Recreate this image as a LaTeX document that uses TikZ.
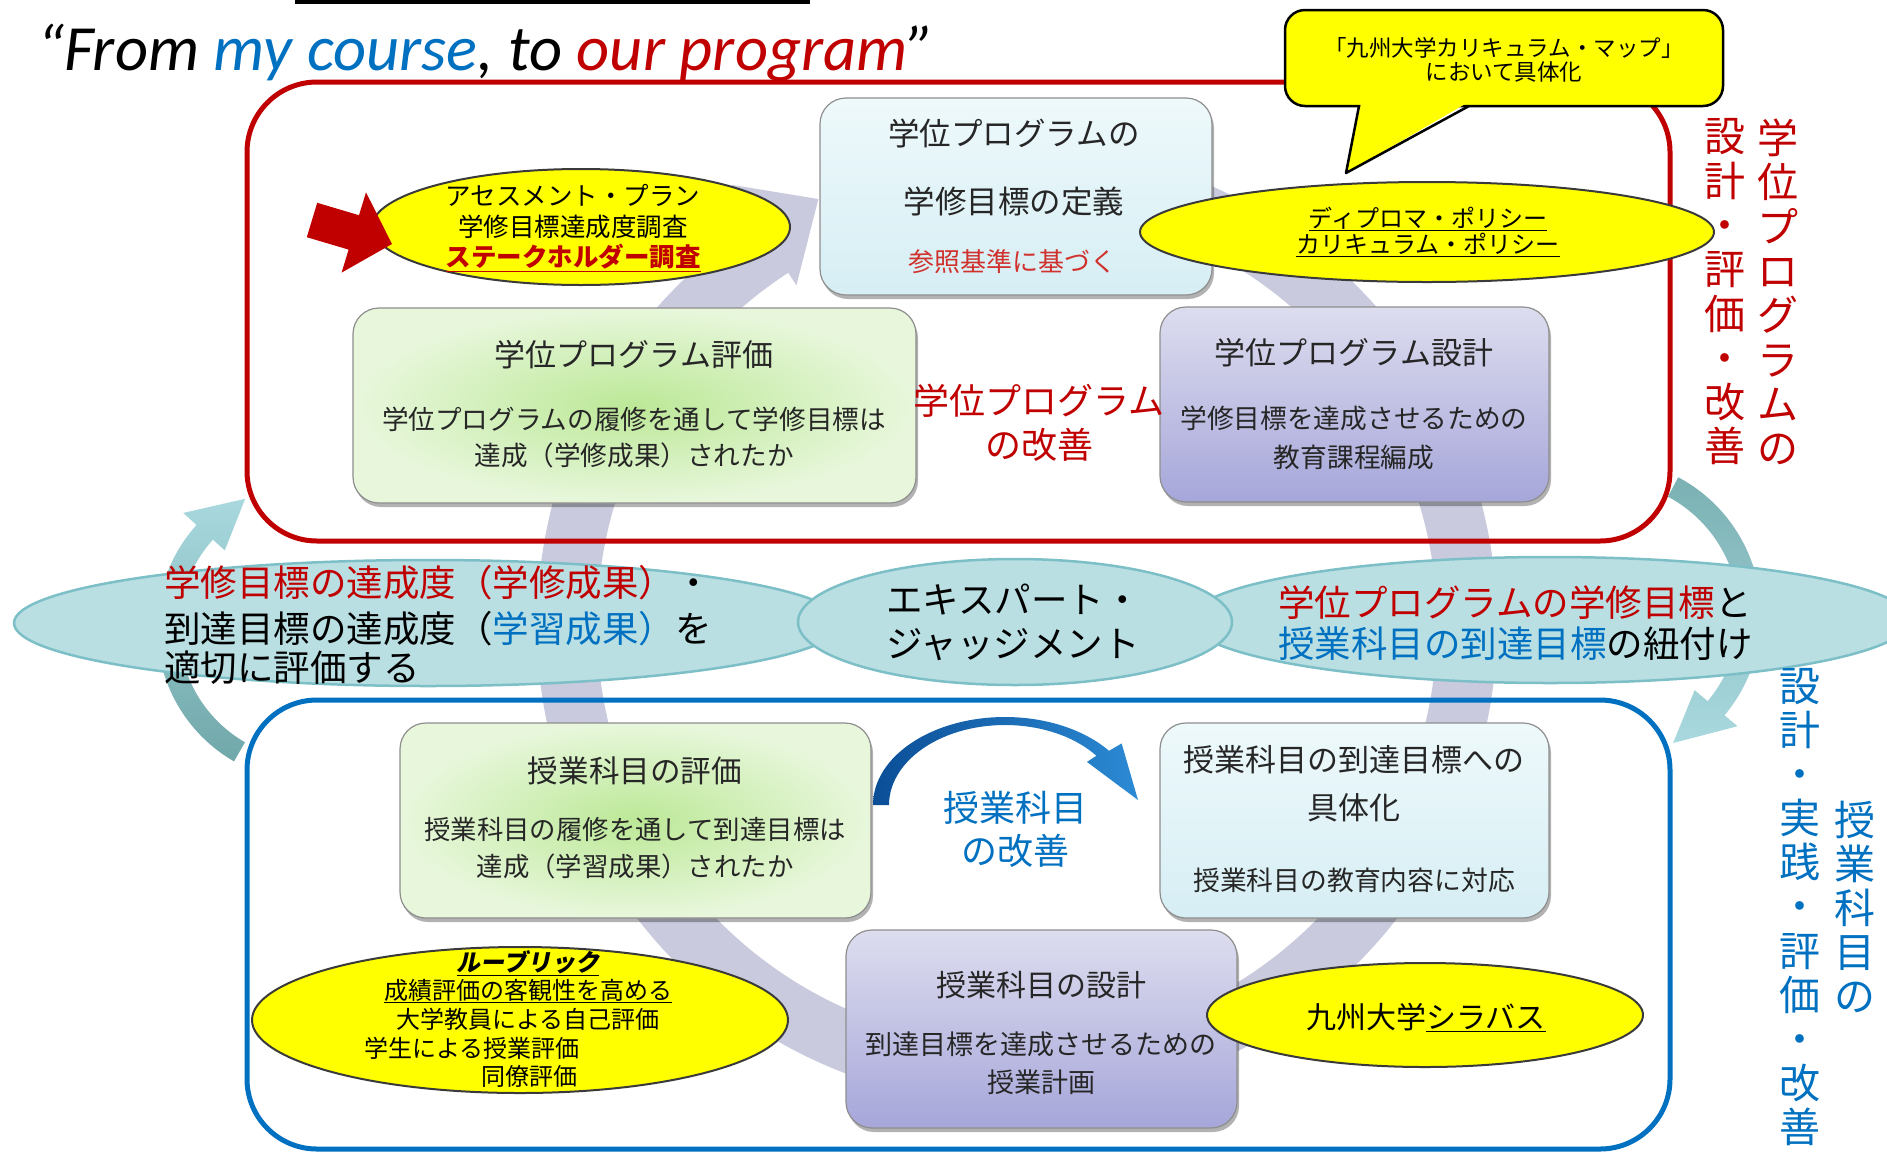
\documentclass[tikz,border=0pt]{standalone}
\usepackage{fontspec}
\setmainfont{Noto Sans CJK JP}
\newfontfamily\titlefont{Carlito}
\newfontfamily\jpsl{Noto Sans CJK JP}[FakeSlant=0.2]
\usetikzlibrary{shapes.geometric,shadows,calc}
\newcommand\jfs[1]{\fontsize{#1}{#1}\selectfont}
\definecolor{pred}{HTML}{C00000}
\definecolor{pblue}{HTML}{0070C0}
\definecolor{ringc}{HTML}{CACADE}
\definecolor{tealfill}{HTML}{B9DFE3}
\definecolor{tealline}{HTML}{7DBFC6}
\definecolor{yel}{HTML}{FFFF00}
\definecolor{yline}{HTML}{3A3A3A}
\definecolor{boxline}{HTML}{8E8E8E}
\definecolor{cyanA}{HTML}{EEF9FB}
\definecolor{cyanB}{HTML}{D6EEF4}
\definecolor{grnIn}{HTML}{BCE897}
\definecolor{grnOut}{HTML}{E8F7DC}
\definecolor{purA}{HTML}{DDDDEF}
\definecolor{purB}{HTML}{A6A6DA}
\definecolor{tealA}{HTML}{A9D9DF}
\definecolor{tealB}{HTML}{70A7A9}
\definecolor{arcA}{HTML}{0A4E96}
\definecolor{arcB}{HTML}{2C8AD4}
\definecolor{lred}{HTML}{D0312D}
\definecolor{ink}{HTML}{262626}
\begin{document}
\begin{tikzpicture}[x=1pt,y=-1pt,
  box/.style={rectangle, rounded corners=26, draw=boxline, line width=1.2pt, inner sep=0,
    drop shadow={shadow xshift=2pt, shadow yshift=-4pt, opacity=0.3, fill=black}},
  cyanbox/.style={box, top color=cyanA, bottom color=cyanB},
  grnbox/.style={box, inner color=grnIn, outer color=grnOut},
  purbox/.style={box, top color=purA, bottom color=purB},
  yellip/.style={ellipse, draw=yline, line width=2pt, fill=yel, inner sep=0},
  tellip/.style={ellipse, draw=tealline, line width=2.5pt, fill=tealfill, inner sep=0},
  t/.style={inner sep=0, text=ink},
  tl/.style={inner sep=0, anchor=west, text=black, font=\jfs{36.5}},
  frame/.style={rectangle, rounded corners=70, line width=5pt, inner sep=0}
]
\useasboundingbox (0,0) rectangle (1887,1152);

% top cut-off bar and title
\fill (295,0) rectangle (810,4);
\node[anchor=base west, inner sep=0, font=\titlefont\itshape\fontsize{64.5}{64.5}\selectfont] (title) at (37,70)
  {“From \textcolor{pblue}{my course}, to \textcolor{pred}{our program}”};

% big background cycle arrow
\coordinate (C) at (1017,625);
\fill[ringc] ($(C)+(-80:480)$) arc[start angle=-80, end angle=237, radius=480]
  -- ($(C)+(237:525)$) -- ($(C)+(245:470)$) -- ($(C)+(237:405)$) -- ($(C)+(237:420)$)
  arc[start angle=237, end angle=-80, radius=420] -- cycle;

% frames
\node[frame, draw=pred, minimum width=1423, minimum height=459] (progframe) at (958.5,311.5) {};
\node[frame, draw=pblue, minimum width=1423, minimum height=449] (courseframe) at (958.5,924.5) {};

% teal side arrows
\coordinate (LA) at (311,628);
\shade[top color=tealA, bottom color=tealB] ($(LA)+(120:154)$) arc[start angle=120, end angle=222, radius=154]
  -- ($(LA)+(222:172)$) -- ($(LA)+(243:145)$) -- ($(LA)+(222:116)$) -- ($(LA)+(222:132)$)
  arc[start angle=222, end angle=120, radius=132] -- cycle;
\coordinate (RA) at (1605,615);
\shade[top color=tealB!80!tealA, bottom color=tealA] ($(RA)+(-62:156)$) arc[start angle=-62, end angle=40, radius=156]
  -- ($(RA)+(40:173)$) -- ($(RA)+(62:145)$) -- ($(RA)+(40:117)$) -- ($(RA)+(40:134)$)
  arc[start angle=40, end angle=-62, radius=134] -- cycle;

% teal ellipses
\node[tellip, minimum width=828, minimum height=126] (evalell) at (428,623) {};
\node[tellip, minimum width=720, minimum height=126] (linkell) at (1550,620) {};
\node[tellip, minimum width=434, minimum height=126] (expell) at (1015,622) {};
\node[tl] (ev1) at (164,583) {\textcolor{pred}{学修目標の達成度（学修成果）}・};
\node[tl] (ev2) at (164,629) {到達目標の達成度（\textcolor{pblue}{学習成果）}を};
\node[tl] (ev3) at (164,668) {適切に評価する};
\node[tl] (ex1) at (886,600) {エキスパート・};
\node[tl] (ex2) at (886,645) {ジャッジメント};
\node[tl] (lk1) at (1278,603) {\textcolor{pred}{学位プログラムの学修目標}と};
\node[tl] (lk2) at (1278,644) {\textcolor{pblue}{授業科目の到達目標}の紐付け};

% program boxes
\node[cyanbox, minimum width=392, minimum height=197] (defbox) at (1016,196.5) {};
\node[t, font=\jfs{31.5}] (def1) at (1014,133) {学位プログラムの};
\node[t, font=\jfs{31.5}] (def2) at (1014,202) {学修目標の定義};
\node[t, font=\jfs{26}, text=lred] (def3) at (1012,262) {参照基準に基づく};

\node[grnbox, minimum width=563, minimum height=195] (pevalbox) at (634.5,405.5) {};
\node[t, font=\jfs{31}] (pe1) at (634,355) {学位プログラム評価};
\node[t, font=\jfs{26.6}] (pe2) at (634,419) {学位プログラムの履修を通して学修目標は};
\node[t, font=\jfs{26.6}] (pe3) at (634,455) {達成（学修成果）されたか};

\node[purbox, minimum width=389, minimum height=195] (pdesbox) at (1354.5,404.5) {};
\node[t, font=\jfs{31}] (pd1) at (1354,353) {学位プログラム設計};
\node[t, font=\jfs{26.7}] (pd2) at (1354,418) {学修目標を達成させるための};
\node[t, font=\jfs{26.7}] (pd3) at (1354,457) {教育課程編成};

\node[t, align=center, text=pred, font=\fontsize{36}{44}\selectfont] (progimp) at (1039,423) {学位プログラム\\の改善};

% course boxes
\node[grnbox, minimum width=471, minimum height=195] (cevalbox) at (635.5,820.5) {};
\node[t, font=\jfs{30.6}] (ce1) at (635,771) {授業科目の評価};
\node[t, font=\jfs{26.4}] (ce2) at (635,829) {授業科目の履修を通して到達目標は};
\node[t, font=\jfs{26.4}] (ce3) at (635,866) {達成（学習成果）されたか};

\node[cyanbox, minimum width=389, minimum height=195] (cgoalbox) at (1354.5,820.5) {};
\node[t, font=\jfs{31}] (cg1) at (1354,760) {授業科目の到達目標への};
\node[t, font=\jfs{31}] (cg2) at (1354,808) {具体化};
\node[t, font=\jfs{26.8}] (cg3) at (1354,880) {授業科目の教育内容に対応};

\node[purbox, minimum width=391, minimum height=198] (cdesbox) at (1041.5,1029) {};
\node[t, font=\jfs{30}] (cd1) at (1041,985) {授業科目の設計};
\node[t, font=\jfs{27}] (cd2) at (1041,1044) {到達目標を達成させるための};
\node[t, font=\jfs{27}] (cd3) at (1041,1082) {授業計画};

% blue improvement arc arrow
\coordinate (B) at (1005,805);
\shade[left color=arcA, right color=arcB] ($(B)+(180:132 and 88)$) arc[start angle=180, end angle=322, x radius=132, y radius=88]
  -- ($(B)+(322:148 and 100)$) -- (1138,800) -- ($(B)+(322:104 and 70)$) -- ($(B)+(322:116 and 80)$)
  arc[start angle=322, end angle=180, x radius=116, y radius=80] -- cycle;
\node[t, align=center, text=pblue, font=\fontsize{36}{43}\selectfont] (courseimp) at (1015,829) {授業科目\\の改善};

% yellow ellipses
\node[yellip, minimum width=418, minimum height=116] (assess) at (581,227) {};
\node[t, font=\jfs{25.5}, text=black] (as1) at (573,195) {アセスメント・プラン};
\node[t, font=\jfs{25.5}, text=black] (as2) at (573,227) {学修目標達成度調査};
\node[t, font=\jfs{25.5}\bfseries, text=pred] (as3) at (573,258) {\underline{ステークホルダー調査}};
\fill[pred] (317.2,202.8) -- (359.0,215.2) -- (366.0,192.3) -- (392,244) -- (341.6,272.6) -- (348.6,249.6) -- (306.8,237.2) -- cycle;

\node[yellip, minimum width=574, minimum height=100] (policy) at (1427,232) {};
\node[t, font=\jfs{24}, text=black] (po1) at (1428,219) {\underline{ディプロマ・ポリシー}};
\node[t, font=\jfs{24}, text=black] (po2) at (1428,245) {\underline{カリキュラム・ポリシー}};

\node[yellip, minimum width=536, minimum height=146] (rubric) at (520,1020) {};
\node[t, font=\jpsl\bfseries\jfs{24}, text=black] (ru1) at (528,963) {\underline{ルーブリック}};
\node[t, font=\jfs{24}, text=black] (ru2) at (528,991) {\underline{成績評価の客観性を高める}};
\node[t, font=\jfs{24}, text=black] (ru3) at (528,1019) {大学教員による自己評価};
\node[t, font=\jfs{24}, text=black] (ru4) at (472,1048) {学生による授業評価};
\node[t, font=\jfs{24}, text=black] (ru5) at (529,1076) {同僚評価};

\node[yellip, minimum width=436, minimum height=104] (syllabus) at (1425,1015) {};
\node[t, font=\jfs{30}, text=black] (sy1) at (1426,1017) {九州大学\underline{シラバス}};

% callout
\draw[fill=yel, draw=black, line width=2.5pt, rounded corners=20] (1285,10) rectangle (1723,106);
\fill[yel] (1361,103) -- (1467,103) -- (1346,173) -- cycle;
\draw[black, line width=2.5pt, line join=round] (1359,106) -- (1346,173) -- (1469,106);
\node[t, font=\jfs{22.5}, text=black] (cm1) at (1504,48) {「九州大学カリキュラム・マップ」};
\node[t, font=\jfs{22.5}, text=black] (cm2) at (1504,72) {において具体化};

% vertical labels
\node[t, align=center, text=pred, font=\fontsize{41}{44.3}\selectfont] (vr1) at (1725,292) {設\\計\\・\\評\\価\\・\\改\\善};
\node[t, align=center, text=pred, font=\fontsize{41}{44.3}\selectfont] (vr2) at (1778,292) {学\\位\\プ\\ロ\\グ\\ラ\\ム\\の};
\node[t, align=center, text=pblue, font=\fontsize{41}{44.1}\selectfont] (vb1) at (1800,907) {設\\計\\・\\実\\践\\・\\評\\価\\・\\改\\善};
\node[t, align=center, text=pblue, font=\fontsize{41}{44.1}\selectfont] (vb2) at (1855,907) {授\\業\\科\\目\\の};
\end{tikzpicture}
\end{document}
